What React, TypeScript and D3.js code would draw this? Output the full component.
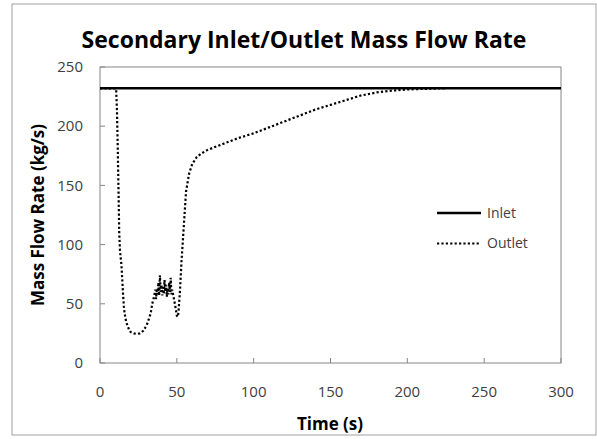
import * as d3 from 'd3'

const W = 597
const H = 439
const FONT = '"Open Sans", "Noto Sans", sans-serif'

const TITLE = 'Secondary Inlet/Outlet Mass Flow Rate'
const X_LABEL = 'Time (s)'
const Y_LABEL = 'Mass Flow Rate (kg/s)'
const X_TICKS = [0, 50, 100, 150, 200, 250, 300]
const Y_TICKS = [0, 50, 100, 150, 200, 250]

// time (s)
const INLET_T = [0, 300]
const INLET_V = [232, 232]

const OUTLET_T = [
  0, 10, 10.5, 11, 11.5, 12, 12.5, 13, 14, 15, 15.5, 16, 17, 18, 19, 20, 22, 24, 26, 28,
  30, 31, 32, 33, 34, 35, 36, 36.5, 37, 37.5, 38, 38.5, 39, 39.5, 40, 40.5, 41, 41.5, 42,
  42.5, 43, 43.5, 44, 44.5, 45, 45.5, 46, 46.5, 47, 48, 49, 50, 50.5, 51, 52, 53, 54, 55,
  56, 58, 60, 63, 66, 70, 80, 90, 100, 110, 120, 130, 140, 150, 160, 170, 180, 190, 200,
  210, 225,
]
const OUTLET_V = [
  232, 232, 231, 215, 185, 150, 110, 95, 82, 58, 48, 42, 35, 31, 28, 26, 25, 24.5, 25, 27,
  31, 34, 38, 42, 50, 55, 62, 54, 63, 58, 68, 57, 74, 60, 66, 57, 64, 58, 70,
  60, 66, 56, 63, 58, 68, 60, 72, 58, 62, 55, 48, 40, 39, 42, 60, 85, 105, 125,
  145, 160, 168, 174, 177, 180, 185, 190, 194, 199, 204, 209, 214, 218, 222, 226, 228.5, 230, 231,
  231.5, 232,
]

const LEGEND = [
  { name: 'Inlet', dash: null },
  { name: 'Outlet', dash: '2.2 2.2' },
]

const PLOT = { left: 100, right: 561, top: 67, bottom: 363 }

export default function App() {
  const x = d3.scaleLinear().domain([0, 300]).range([PLOT.left, PLOT.right])
  const y = d3.scaleLinear().domain([0, 250]).range([PLOT.bottom, PLOT.top])

  const line = d3.line<[number, number]>().x(d => x(d[0])).y(d => y(d[1]))
  const inletPath = line(INLET_T.map((t, i) => [t, INLET_V[i]])) || ''
  const outletPath = line(OUTLET_T.map((t, i) => [t, OUTLET_V[i]])) || ''

  const axisColor = '#868686'
  const textColor = '#404040'

  return (
    <div style={{ position: 'fixed', left: 0, top: 0 }}>
      <svg width={W} height={H} style={{ display: 'block', background: '#fff' }}>
        {/* Outer chart border */}
        <rect x={12} y={4} width={584} height={431} fill="#fff" stroke="#a0a0a0" strokeWidth={1} />

        {/* Title */}
        <text x={304} y={48} textAnchor="middle" fontFamily={FONT} fontWeight="bold" fontSize={23} fill="#000">
          {TITLE}
        </text>

        {/* Plot frame */}
        <rect
          x={PLOT.left} y={PLOT.top}
          width={PLOT.right - PLOT.left} height={PLOT.bottom - PLOT.top}
          fill="none" stroke={axisColor} strokeWidth={1}
        />

        {/* Y ticks */}
        {Y_TICKS.map(v => (
          <g key={'y' + v}>
            <line x1={PLOT.left} x2={PLOT.left + 5} y1={y(v)} y2={y(v)} stroke={axisColor} />
            <text x={83} y={y(v)} dy="0.35em" textAnchor="end" fontFamily={FONT} fontSize={15} fill={textColor}>
              {v}
            </text>
          </g>
        ))}

        {/* X ticks */}
        {X_TICKS.map(v => (
          <g key={'x' + v}>
            <line x1={x(v)} x2={x(v)} y1={PLOT.bottom} y2={PLOT.bottom - 5} stroke={axisColor} />
            <text x={x(v)} y={397} textAnchor="middle" fontFamily={FONT} fontSize={15} fill={textColor}>
              {v}
            </text>
          </g>
        ))}

        {/* Axis titles */}
        <text
          transform={`translate(44,${(PLOT.top + PLOT.bottom) / 2}) rotate(-90)`}
          textAnchor="middle" fontFamily={FONT} fontWeight="bold" fontSize={17} fill="#000"
        >
          {Y_LABEL}
        </text>
        <text x={330} y={430} textAnchor="middle" fontFamily={FONT} fontWeight="bold" fontSize={17} fill="#000">
          {X_LABEL}
        </text>

        {/* Series */}
        <path d={outletPath} fill="none" stroke="#000" strokeWidth={2.2} strokeDasharray="2.2 2.2" />
        <path d={inletPath} fill="none" stroke="#000" strokeWidth={2.5} />

        {/* Legend */}
        {LEGEND.map((l, i) => (
          <g key={l.name} transform={`translate(437,${213 + i * 30.5})`}>
            <line x1={0} x2={44} y1={0} y2={0} stroke="#000"
              strokeWidth={l.dash ? 2.2 : 2.5} strokeDasharray={l.dash || undefined} />
            <text x={50} y={0} dy="0.35em" fontFamily={FONT} fontSize={14} fill={textColor}>
              {l.name}
            </text>
          </g>
        ))}
      </svg>
    </div>
  )
}
